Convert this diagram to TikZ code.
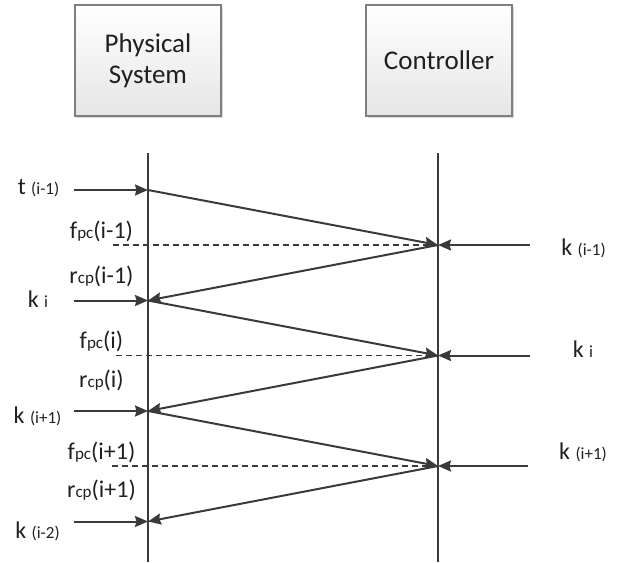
\documentclass[tikz,border=0pt]{standalone}
\usepackage{fontspec}
\setmainfont{Carlito}
\usetikzlibrary{arrows.meta,shadows}
\definecolor{ink}{HTML}{3A3A3A}
\definecolor{frame}{HTML}{7F7F7F}
\definecolor{textc}{HTML}{202020}
% smaller part of a label (subscript letters, indices)
\newcommand\lsm[1]{{\fontsize{17}{20}\selectfont #1}}
\begin{document}
\begin{tikzpicture}[x=1pt,y=-1pt,
  block/.style={draw=frame, line width=1.3pt, top color=white, bottom color=black!10,
    minimum width=146pt, minimum height=111pt, inner sep=0pt, align=center,
    font=\fontsize{27}{31}\selectfont, text=textc,
    drop shadow={shadow xshift=2pt, shadow yshift=-2pt, opacity=0.3, fill=black!50}},
  lifeline/.style={draw=ink, line width=2pt},
  msg/.style={draw=ink, line width=2pt, -{Stealth[length=13pt,width=11pt,inset=1.5pt]}},
  sync/.style={draw=ink, line width=1.1pt, dash pattern=on 6pt off 4pt},
  lab/.style={font=\fontsize{24}{28}\selectfont, text=textc, anchor=base, inner sep=0pt}]
\useasboundingbox (0,0) rectangle (618,562);

% the two participants
\node[block] (ps) at (148,60.5) {Physical\\System};
\node[block] (ctl) at (439,60.5) {Controller};

% lifelines
\coordinate (pt) at (148,153);
\coordinate (pb) at (148,562);
\coordinate (ct) at (438,153);
\coordinate (cb) at (438,562);
\draw[lifeline] (pt) -- (pb);
\draw[lifeline] (ct) -- (cb);

% event points on the lifelines
\coordinate (L1) at (148,190);
\coordinate (L2) at (148,300.5);
\coordinate (L3) at (148,411);
\coordinate (L4) at (148,521.5);
\coordinate (R1) at (438,245);
\coordinate (R2) at (438,355.5);
\coordinate (R3) at (438,466);

% free ends of the input arrows
\coordinate (I1) at (74,190);
\coordinate (I2) at (74,300.5);
\coordinate (I3) at (74,411);
\coordinate (I4) at (74,521.5);
\coordinate (J1) at (530,245);
\coordinate (J2) at (530,355.5);
\coordinate (J3) at (528,466);

% start of the dashed reference lines
\coordinate (D1) at (113,245);
\coordinate (D2) at (116,355.5);
\coordinate (D3) at (112,466);

\draw[sync] (D1) -- (R1);
\draw[sync] (D2) -- (R2);
\draw[sync] (D3) -- (R3);

% inputs
\draw[msg] (I1) -- (L1);
\draw[msg] (I2) -- (L2);
\draw[msg] (I3) -- (L3);
\draw[msg] (I4) -- (L4);
\draw[msg] (J1) -- (R1);
\draw[msg] (J2) -- (R2);
\draw[msg] (J3) -- (R3);

% messages between the lifelines
\draw[msg] (L1) -- (R1);
\draw[msg] (R1) -- (L2);
\draw[msg] (L2) -- (R2);
\draw[msg] (R2) -- (L3);
\draw[msg] (L3) -- (R3);
\draw[msg] (R3) -- (L4);

% labels, left side
\node[lab] (t1) at (38.5,194) {t \lsm{(i-1)}};
\node[lab] (k2) at (38,307) {k \lsm{i}};
\node[lab] (k3) at (37.5,423) {k \lsm{(i+1)}};
\node[lab] (k4) at (37.5,538) {k \lsm{(i-2)}};

\node[lab] (f1) at (101.5,238) {f\lsm{pc}(i-1)};
\node[lab] (r1) at (101.5,283) {r\lsm{cp}(i-1)};
\node[lab] (f2) at (101.5,348) {f\lsm{pc}(i)};
\node[lab] (r2) at (101.5,387) {r\lsm{cp}(i)};
\node[lab] (f3) at (101.5,459) {f\lsm{pc}(i+1)};
\node[lab] (r3) at (101.5,497) {r\lsm{cp}(i+1)};

% labels, right side
\node[lab] (q1) at (583.5,255) {k \lsm{(i-1)}};
\node[lab] (q2) at (583,357) {k \lsm{i}};
\node[lab] (q3) at (583,459) {k \lsm{(i+1)}};
\end{tikzpicture}
\end{document}
